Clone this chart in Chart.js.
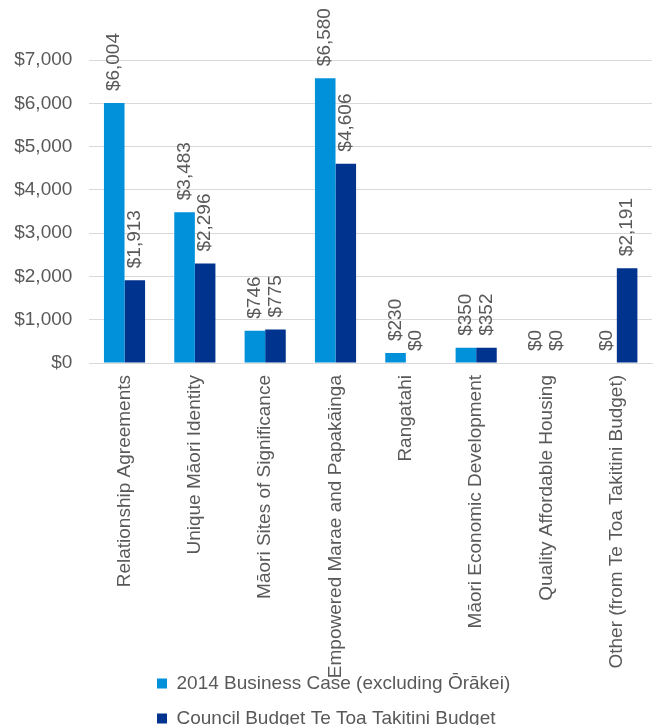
<!DOCTYPE html>
<html>
<head>
<meta charset="utf-8">
<script src="https://cdn.jsdelivr.net/npm/chart.js@4/dist/chart.umd.min.js"></script>
<style>
  html, body { margin: 0; padding: 0; background: #ffffff; }
  #wrap { width: 657px; height: 725px; position: relative; }
</style>
</head>
<body>
<div id="wrap"><canvas id="c"></canvas></div>
<script>
const categories = [
  "Relationship Agreements",
  "Unique Māori Identity",
  "Māori Sites of Significance",
  "Empowered Marae and Papakāinga",
  "Rangatahi",
  "Māori Economic Development",
  "Quality Affordable Housing",
  "Other (from Te Toa Takitini Budget)"
];
const seriesNames = [
  "2014 Business Case (excluding Ōrākei)",
  "Council Budget Te Toa Takitini Budget"
];
const businessCase = [6004, 3483, 746, 6580, 230, 350, 0, 0];
const councilBudget = [1913, 2296, 775, 4606, 0, 352, 0, 2191];
const yTickValues = [0, 1000, 2000, 3000, 4000, 5000, 6000, 7000];

const FONT = "'Liberation Sans', Arial, sans-serif";
const TEXT = "#595959";
const fmt = v => "$" + v.toLocaleString("en-US");

const valueLabels = {
  id: "valueLabels",
  afterDatasetsDraw(chart) {
    const ctx = chart.ctx;
    ctx.save();
    ctx.font = "19px " + FONT;
    ctx.fillStyle = TEXT;
    ctx.textAlign = "left";
    ctx.textBaseline = "middle";
    chart.data.datasets.forEach((ds, i) => {
      const meta = chart.getDatasetMeta(i);
      meta.data.forEach((el, j) => {
        ctx.save();
        ctx.translate(el.x, el.y - 12);
        ctx.rotate(-Math.PI / 2);
        ctx.fillText(fmt(ds.data[j]), 0, 0);
        ctx.restore();
      });
    });
    ctx.restore();
  }
};

// let category labels run down into the legend band (as in the reference) and left-align the legend rows
const layoutTweaks = {
  id: "layoutTweaks",
  afterLayout(chart) {
    if (chart.scales.x) chart.scales.x.bottom = chart.height + 20;
    if (chart.legend) chart.legend.left = 141;
  }
};

new Chart(document.getElementById("c"), {
  type: "bar",
  data: {
    labels: categories,
    datasets: [
      { label: seriesNames[0], data: businessCase, backgroundColor: "#0091DA",
        categoryPercentage: 0.585, barPercentage: 1.0 },
      { label: seriesNames[1], data: councilBudget, backgroundColor: "#00338D",
        categoryPercentage: 0.585, barPercentage: 1.0 }
    ]
  },
  options: {
    responsive: true,
    maintainAspectRatio: false,
    animation: false,
    devicePixelRatio: 1,
    layout: { padding: { top: 60, right: 5, left: 0, bottom: -13 } },
    plugins: {
      tooltip: { enabled: false },
      legend: {
        position: "bottom",
        align: "start",
        labels: {
          font: { family: FONT, size: 19 },
          color: TEXT,
          boxWidth: 10,
          boxHeight: 10,
          padding: 16
        }
      }
    },
    scales: {
      x: {
        grid: { display: false, drawTicks: false },
        border: { display: true, color: "#d9d9d9", width: 1 },
        ticks: {
          font: { family: FONT, size: 19 },
          color: TEXT,
          minRotation: 90,
          maxRotation: 90,
          padding: 12,
          autoSkip: false
        },
        afterFit(scale) { scale.height = 295; }
      },
      y: {
        min: 0,
        max: 7000,
        afterBuildTicks(scale) { scale.ticks = yTickValues.map(v => ({ value: v })); },
        grid: { color: "#d9d9d9", drawTicks: false },
        border: { display: false },
        ticks: {
          font: { family: FONT, size: 19 },
          color: TEXT,
          padding: 17,
          callback: v => fmt(v)
        },
        afterFit(scale) { scale.width = 89.35; }
      }
    }
  },
  plugins: [valueLabels, layoutTweaks]
});
</script>
</body>
</html>
